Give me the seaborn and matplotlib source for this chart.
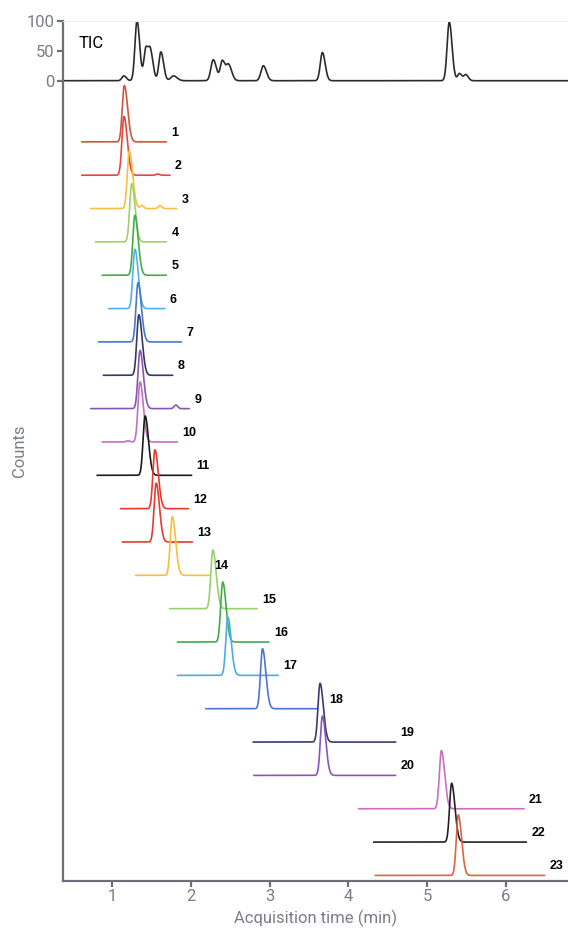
import numpy as np
import pandas as pd
import matplotlib
matplotlib.use("Agg")
from matplotlib import pyplot as plt
import seaborn as sns

# TIC peaks (time in min, relative height, width)
tic_times = [1.15, 1.317, 1.43, 1.49, 1.62, 1.78, 2.285, 2.40, 2.48, 2.92, 3.67, 5.28, 5.41, 5.49]
tic_heights = [8, 100, 54, 44, 48, 8, 35, 33, 26, 25, 47, 98, 12, 10]
tic_widths = [0.025, 0.026, 0.025, 0.025, 0.026, 0.035, 0.03, 0.026, 0.03, 0.03, 0.027, 0.027, 0.024, 0.024]

# extracted ion chromatograms, one per compound
compounds = [str(i) for i in range(1, 24)]
peak_times = [1.156, 1.152, 1.22, 1.25, 1.29, 1.29, 1.33, 1.34, 1.355, 1.355, 1.42, 1.545,
              1.56, 1.765, 2.28, 2.405, 2.47, 2.91, 3.64, 3.67, 5.18, 5.31, 5.395]
peak_heights = [94, 98, 96, 97, 100, 99, 99, 101, 97, 100, 99, 98,
                98, 98, 98, 100, 97, 100, 98, 99, 97, 98, 101]
trace_start = [0.615, 0.615, 0.73, 0.79, 0.875, 0.96, 0.83, 0.89, 0.73, 0.875, 0.81, 1.11,
               1.13, 1.30, 1.73, 1.83, 1.83, 2.19, 2.79, 2.80, 4.13, 4.32, 4.34]
trace_end = [1.69, 1.735, 1.82, 1.69, 1.69, 1.67, 1.88, 1.77, 1.98, 1.83, 2.01, 1.97,
             2.02, 2.24, 2.84, 2.99, 3.11, 3.61, 4.60, 4.60, 6.23, 6.26, 6.49]
# minor peaks: (compound index, time, height)
minor_peaks = [(1, 1.58, 2), (2, 1.38, 5), (2, 1.61, 5), (8, 1.81, 6), (9, 1.20, 2)]

colors = ["#cf553b", "#e8453c", "#f9bd45", "#a2d06a", "#3fae49", "#4fb3e8", "#4679cc", "#323b68",
          "#8456b8", "#c86ec0", "#1a1a1a", "#e8392f", "#e83a2f", "#fbbc3a", "#9bd06a", "#3fae49",
          "#49aee6", "#4a78c8", "#363d6b", "#8a55b8", "#cc6cc4", "#222222", "#e0633f"]

STEP = 55.6
FIRST = -102


def peak(t, center, height, sl, sr):
    s = np.where(t < center, sl, sr)
    return height * np.exp(-0.5 * ((t - center) / s) ** 2)


rows = []
t = np.linspace(0.374, 6.787, 3000)
y = np.zeros_like(t)
for c, h, w in zip(tic_times, tic_heights, tic_widths):
    y += peak(t, c, h, w, w * 1.3)
rows.append(pd.DataFrame({"time": t, "signal": y, "trace": "TIC"}))

for i, name in enumerate(compounds):
    t = np.linspace(trace_start[i], trace_end[i], 1200)
    base = FIRST - STEP * i
    y = base + peak(t, peak_times[i], peak_heights[i], 0.026, 0.042)
    for j, mt, mh in minor_peaks:
        if j == i:
            y += peak(t, mt, mh, 0.022, 0.022)
    rows.append(pd.DataFrame({"time": t, "signal": y, "trace": name}))

df = pd.concat(rows, ignore_index=True)

sns.set_theme(style="white")
plt.rcParams["font.family"] = ["Roboto", "DejaVu Sans"]

fig = plt.figure(figsize=(5.68, 9.3), dpi=100)
ax = fig.add_axes([0.1104, 0.0530, 0.8896, 0.9247])

palette = {"TIC": "#2b2b2b"}
palette.update(dict(zip(compounds, colors)))
sns.lineplot(data=df, x="time", y="signal", hue="trace", palette=palette,
             estimator=None, sort=False, legend=False, linewidth=1.2, ax=ax)

for i, name in enumerate(compounds):
    dx = 12 if name == "18" else 5
    ax.annotate(name, (trace_end[i], FIRST - STEP * i), xytext=(dx, 9),
                textcoords="offset pixels", ha="left", va="center",
                fontsize=9, fontweight="bold", family="Liberation Sans", color="black")

ax.text(0.57, 62, "TIC", fontsize=12, color="black", va="center")

ax.set_xlim(0.374, 6.787)
ax.set_ylim(-1334, 100)
ax.set_xticks([1, 2, 3, 4, 5, 6])
ax.set_yticks([0, 50, 100])
ax.set_xlabel("Acquisition time (min)", fontsize=12, color="#7a7d85", labelpad=4)
ax.set_ylabel("Counts", fontsize=12, color="#7a7d85")
ax.yaxis.set_label_coords(-0.07, 0.5)

grey = "#6d7077"
for side in ["left", "bottom"]:
    ax.spines[side].set_color(grey)
    ax.spines[side].set_linewidth(1.6)
ax.spines["right"].set_visible(False)
ax.spines["top"].set_color("#eeeeee")
ax.spines["top"].set_linewidth(0.8)
ax.tick_params(axis="both", colors=grey, labelcolor="#7a7d85", labelsize=12,
               length=4, width=1.6, direction="out", bottom=True, left=True, pad=2)

fig.savefig("out.png", dpi=100)
